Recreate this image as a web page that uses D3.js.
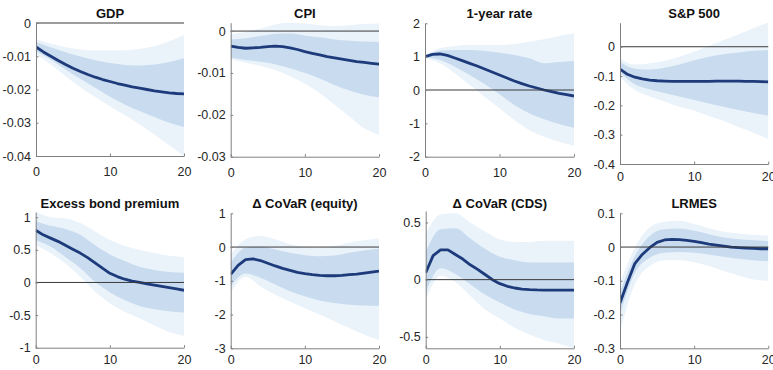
<!DOCTYPE html>
<html>
<head>
<meta charset="utf-8">
<script src="https://cdn.jsdelivr.net/npm/d3@7"></script>
<style>
  body { margin: 0; background: #fff; }
  svg { display: block; font-family: "Liberation Sans", Arial, sans-serif; }
</style>
</head>
<body>
<svg id="chart" width="773" height="370"></svg>
<script>
// horizons (quarters) for the median lines and the bands
const horizons = [0,1,2,3,4,5,6,7,8,9,10,11,12,13,14,15,16,17,18,19,20]
const bandHorizons = [0,2,4,6,8,10,12,14,16,18,20]
const xTicks = [0, 10, 20]

const titles = ["GDP", "CPI", "1-year rate", "S&P 500", "Excess bond premium", "\u0394 CoVaR (equity)", "\u0394 CoVaR (CDS)", "LRMES"]

// GDP
const gdpMedian = [-0.0072,-0.0087,-0.0100,-0.0113,-0.0125,-0.0136,-0.0146,-0.0155,-0.0163,-0.0170,-0.0176,-0.0182,-0.0187,-0.0192,-0.0196,-0.0200,-0.0204,-0.0207,-0.0210,-0.0212,-0.0213]
const gdpInnerHi = [-0.0058,-0.0073,-0.0088,-0.0101,-0.0112,-0.0120,-0.0126,-0.0128,-0.0125,-0.0117,-0.0106]
const gdpInnerLo = [-0.0085,-0.0110,-0.0140,-0.0168,-0.0195,-0.0222,-0.0245,-0.0265,-0.0283,-0.0300,-0.0313]
const gdpOuterHi = [-0.0048,-0.0062,-0.0073,-0.0080,-0.0083,-0.0083,-0.0082,-0.0078,-0.0070,-0.0055,-0.0036]
const gdpOuterLo = [-0.0095,-0.0125,-0.0160,-0.0193,-0.0222,-0.0250,-0.0277,-0.0305,-0.0335,-0.0368,-0.0400]

// CPI
const cpiMedian = [-0.0036,-0.0039,-0.0041,-0.0040,-0.0039,-0.0037,-0.0036,-0.0037,-0.0040,-0.0044,-0.0049,-0.0053,-0.0057,-0.0061,-0.0064,-0.0067,-0.0070,-0.0073,-0.0075,-0.0077,-0.0079]
const cpiInnerHi = [-0.0020,-0.0017,-0.0012,-0.0007,-0.0006,-0.0011,-0.0015,-0.0020,-0.0023,-0.0025,-0.0026]
const cpiInnerLo = [-0.0063,-0.0069,-0.0073,-0.0079,-0.0089,-0.0100,-0.0113,-0.0129,-0.0142,-0.0152,-0.0158]
const cpiOuterHi = [-0.0008,-0.0002,0.0006,0.0016,0.0020,0.0018,0.0014,0.0012,0.0014,0.0017,0.0018]
const cpiOuterLo = [-0.0067,-0.0075,-0.0083,-0.0093,-0.0107,-0.0126,-0.0148,-0.0176,-0.0204,-0.0232,-0.0248]

// 1-year rate
const rateMedian = [1.00,1.07,1.08,1.04,0.96,0.88,0.80,0.72,0.63,0.54,0.45,0.36,0.27,0.19,0.12,0.06,0.00,-0.05,-0.10,-0.14,-0.18]
const rateInnerHi = [1.02,1.18,1.20,1.20,1.17,1.12,1.05,0.95,0.80,0.84,0.87]
const rateInnerLo = [0.98,0.90,0.70,0.45,0.18,-0.13,-0.45,-0.70,-0.88,-1.02,-1.13]
const rateOuterHi = [1.04,1.25,1.32,1.35,1.35,1.35,1.38,1.45,1.52,1.62,1.70]
const rateOuterLo = [0.95,0.80,0.50,0.15,-0.20,-0.55,-0.90,-1.20,-1.40,-1.55,-1.67]

// S&P 500
const spMedian = [-0.076,-0.094,-0.104,-0.110,-0.114,-0.116,-0.117,-0.118,-0.118,-0.118,-0.118,-0.118,-0.118,-0.117,-0.117,-0.117,-0.117,-0.118,-0.118,-0.119,-0.120]
const spInnerHi = [-0.052,-0.075,-0.078,-0.072,-0.061,-0.046,-0.034,-0.026,-0.020,-0.014,-0.011]
const spInnerLo = [-0.088,-0.128,-0.145,-0.158,-0.170,-0.182,-0.194,-0.205,-0.216,-0.226,-0.235]
const spOuterHi = [-0.040,-0.061,-0.057,-0.049,-0.034,-0.017,0.003,0.023,0.043,0.063,0.083]
const spOuterLo = [-0.103,-0.147,-0.170,-0.187,-0.205,-0.218,-0.236,-0.253,-0.274,-0.293,-0.315]

// Excess bond premium
const ebpMedian = [0.80,0.73,0.68,0.63,0.57,0.51,0.45,0.38,0.30,0.22,0.14,0.09,0.05,0.02,0.00,-0.02,-0.04,-0.06,-0.08,-0.10,-0.12]
const ebpInnerHi = [0.94,0.87,0.82,0.73,0.57,0.43,0.33,0.24,0.19,0.16,0.15]
const ebpInnerLo = [0.65,0.55,0.39,0.22,0.01,-0.15,-0.27,-0.36,-0.41,-0.44,-0.46]
const ebpOuterHi = [1.08,1.00,0.98,0.91,0.78,0.65,0.56,0.50,0.45,0.41,0.39]
const ebpOuterLo = [0.57,0.45,0.29,0.09,-0.14,-0.32,-0.45,-0.55,-0.66,-0.76,-0.82]

// Delta CoVaR (equity)
const eqMedian = [-0.81,-0.54,-0.37,-0.35,-0.40,-0.48,-0.56,-0.63,-0.69,-0.75,-0.79,-0.82,-0.84,-0.85,-0.85,-0.84,-0.82,-0.80,-0.77,-0.74,-0.71]
const eqInnerHi = [-0.47,-0.02,0.01,-0.07,-0.17,-0.24,-0.27,-0.25,-0.17,-0.10,-0.05]
const eqInnerLo = [-1.16,-0.78,-0.91,-1.11,-1.31,-1.46,-1.58,-1.66,-1.71,-1.73,-1.74]
const eqOuterHi = [-0.22,0.23,0.33,0.23,0.08,0.00,-0.02,0.03,0.13,0.20,0.25]
const eqOuterLo = [-1.36,-0.88,-1.16,-1.41,-1.61,-1.81,-2.00,-2.20,-2.40,-2.60,-2.75]

// Delta CoVaR (CDS)
const cdsMedian = [0.06,0.21,0.26,0.26,0.22,0.18,0.13,0.09,0.045,0.00,-0.035,-0.058,-0.073,-0.082,-0.087,-0.090,-0.091,-0.091,-0.091,-0.091,-0.091]
const cdsInnerHi = [0.24,0.44,0.45,0.36,0.27,0.20,0.17,0.15,0.15,0.15,0.15]
const cdsInnerLo = [-0.11,0.10,0.05,-0.04,-0.13,-0.20,-0.26,-0.30,-0.32,-0.34,-0.34]
const cdsOuterHi = [0.40,0.57,0.58,0.50,0.42,0.35,0.33,0.33,0.34,0.34,0.34]
const cdsOuterLo = [-0.18,0.035,-0.02,-0.14,-0.26,-0.34,-0.42,-0.48,-0.53,-0.56,-0.60]

// LRMES
const lrmesMedian = [-0.166,-0.105,-0.049,-0.022,-0.002,0.014,0.021,0.023,0.022,0.020,0.017,0.013,0.009,0.006,0.003,0.000,-0.002,-0.003,-0.004,-0.005,-0.005]
const lrmesInnerHi = [-0.135,-0.027,0.033,0.053,0.055,0.048,0.038,0.028,0.023,0.020,0.018]
const lrmesInnerLo = [-0.200,-0.077,-0.032,-0.017,-0.015,-0.017,-0.022,-0.029,-0.035,-0.039,-0.042]
const lrmesOuterHi = [-0.107,-0.002,0.058,0.075,0.078,0.068,0.056,0.045,0.040,0.036,0.035]
const lrmesOuterLo = [-0.250,-0.110,-0.056,-0.039,-0.039,-0.045,-0.056,-0.071,-0.084,-0.096,-0.100]

// y axes
const yDomains = [[-0.04,0],[-0.03,0.002],[-2,2],[-0.4,0.082],[-1,1.08],[-3,1],[-0.6,0.6],[-0.3,0.1]]
const yTicks = [
    [-0.04,-0.03,-0.02,-0.01,0],
    [-0.03,-0.02,-0.01,0],
    [-2,-1,0,1,2],
    [-0.4,-0.3,-0.2,-0.1,0],
    [-1,-0.5,0,0.5,1],
    [-3,-2,-1,0,1],
    [-0.5,0,0.5],
    [-0.3,-0.2,-0.1,0,0.1]
]

const series = [
    [gdpMedian, gdpInnerLo, gdpInnerHi, gdpOuterLo, gdpOuterHi],
    [cpiMedian, cpiInnerLo, cpiInnerHi, cpiOuterLo, cpiOuterHi],
    [rateMedian, rateInnerLo, rateInnerHi, rateOuterLo, rateOuterHi],
    [spMedian, spInnerLo, spInnerHi, spOuterLo, spOuterHi],
    [ebpMedian, ebpInnerLo, ebpInnerHi, ebpOuterLo, ebpOuterHi],
    [eqMedian, eqInnerLo, eqInnerHi, eqOuterLo, eqOuterHi],
    [cdsMedian, cdsInnerLo, cdsInnerHi, cdsOuterLo, cdsOuterHi],
    [lrmesMedian, lrmesInnerLo, lrmesInnerHi, lrmesOuterLo, lrmesOuterHi]
]

// panel boxes in page pixels: left, right, top, bottom
const boxes = [
    [36, 184, 23, 156],
    [230.7, 379, 22.7, 156.7],
    [425, 574, 23.3, 156.7],
    [620, 768.3, 22.7, 164],
    [35.7, 184, 212, 347.7],
    [230.7, 379, 213.3, 348.3],
    [425.7, 574, 211, 348.3],
    [620, 768.3, 213.3, 348.3]
]
const titleY = [18, 18, 18, 18, 208, 208, 208, 208]
const xLabelPad = [11, 11, 11, 8.5, 7, 6.5, 6.5, 6.5]

const outerColor = "#eaf2fa"
const innerColor = "#c8dbef"
const lineColor = "#1d3a7a"
const axisColor = "#808080"
const zeroColor = "#3a3a3a"
const textColor = "#262626"

const svg = d3.select("#chart")

titles.forEach((title, i) => {
    const [left, right, top, bottom] = boxes[i]
    const [median, innerLo, innerHi, outerLo, outerHi] = series[i]

    const x = d3.scaleLinear().domain([0, 20]).range([left, right])
    const y = d3.scaleLinear().domain(yDomains[i]).range([bottom, top])

    const g = svg.append("g").attr("class", "panel")

    g.append("clipPath")
        .attr("id", "clip" + i)
        .append("rect")
        .attr("x", left).attr("y", top)
        .attr("width", right - left).attr("height", bottom - top)

    const plot = g.append("g").attr("clip-path", "url(#clip" + i + ")")

    const band = (lo, hi) => d3.area()
        .curve(d3.curveMonotoneX)
        .x((d, j) => x(bandHorizons[j]))
        .y0((d, j) => y(lo[j]))
        .y1((d, j) => y(hi[j]))(lo)

    plot.append("path")
        .attr("d", band(outerLo, outerHi))
        .attr("fill", outerColor)
    plot.append("path")
        .attr("d", band(innerLo, innerHi))
        .attr("fill", innerColor)

    // zero line
    g.append("line")
        .attr("x1", left).attr("x2", right)
        .attr("y1", y(0)).attr("y2", y(0))
        .attr("stroke", zeroColor)
        .attr("stroke-width", 1)

    const line = d3.line()
        .x((d, j) => x(horizons[j]))
        .y(d => y(d))

    plot.append("path")
        .attr("d", line(median))
        .attr("fill", "none")
        .attr("stroke", lineColor)
        .attr("stroke-width", 2.8)
        .attr("stroke-linejoin", "round")

    // axes, ticks pointing inward like matlab
    const xAxis = g.append("g")
        .attr("transform", "translate(0," + bottom + ")")
        .call(d3.axisBottom(x).tickValues(xTicks).tickSize(-2.5).tickPadding(xLabelPad[i]).tickSizeOuter(0).tickFormat(d => String(d)))
    const yAxis = g.append("g")
        .attr("transform", "translate(" + left + ",0)")
        .call(d3.axisLeft(y).tickValues(yTicks[i]).tickSize(-2.5).tickPadding(5).tickSizeOuter(0).tickFormat(d => String(d)))

    ;[xAxis, yAxis].forEach(ax => {
        ax.select(".domain").attr("stroke", axisColor)
        ax.selectAll(".tick line").attr("stroke", axisColor)
        ax.selectAll(".tick text")
            .attr("fill", textColor)
            .style("font-size", "12.5px")
            .style("font-family", "'Liberation Sans', Arial, sans-serif")
    })

    g.append("text")
        .attr("x", (left + right) / 2)
        .attr("y", titleY[i])
        .attr("text-anchor", "middle")
        .attr("fill", "#111")
        .style("font-size", "13px")
        .style("font-weight", "bold")
        .text(title)
})
</script>
</body>
</html>
